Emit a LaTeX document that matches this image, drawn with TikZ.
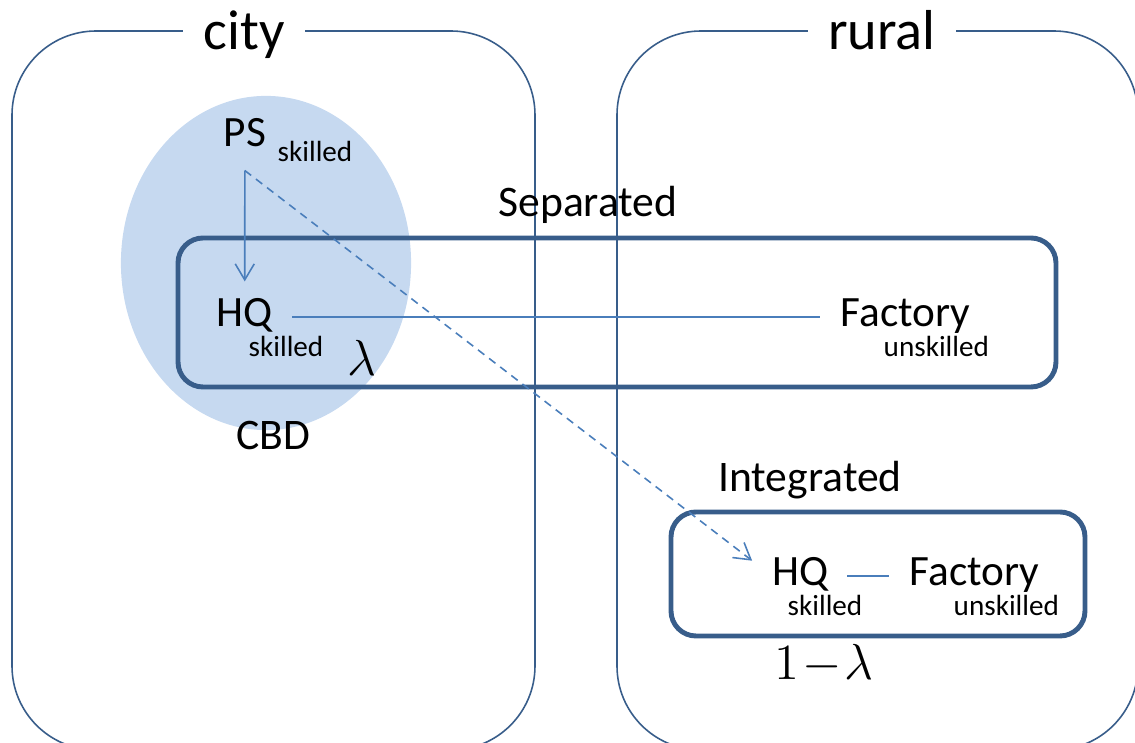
\documentclass[tikz,border=0pt]{standalone}
\usepackage[no-math]{fontspec}
\setmainfont{Carlito}
\usetikzlibrary{arrows.meta}
\definecolor{boxColor}{RGB}{56,93,138}
\definecolor{linkColor}{RGB}{74,126,187}
\definecolor{cbdColor}{RGB}{198,217,240}
\tikzstyle{plane} = [x = 0.01cm, y = -0.01cm]
\tikzstyle{regionStyle} = [color=boxColor, line width=0.45pt, rounded corners=0.84cm]
\tikzstyle{groupStyle} = [color=boxColor, line width=1.4pt, rounded corners=0.25cm]
\tikzstyle{regionTitle} = [font=\fontsize{16}{19}\selectfont, fill=white, inner xsep=0.2cm, inner ysep=0pt, anchor=base]
\tikzstyle{groupTitle} = [font=\fontsize{12.4}{15}\selectfont, inner sep=0pt, anchor=base]
\tikzstyle{siteText} = [font=\fontsize{12.3}{15}\selectfont, inner sep=0pt, anchor=base west, text height=0.65em, text depth=0.08em]
\tikzstyle{subText} = [font=\fontsize{8.3}{10}\selectfont, inner sep=0pt, anchor=base west]
\tikzstyle{shareText} = [font=\fontsize{13.4}{16}\selectfont, inner sep=0pt, anchor=base west]
\tikzstyle{linkLine} = [color=linkColor, line width=0.45pt]
\tikzstyle{linkArrow} = [linkLine, -{Straight Barb[length=0.16cm, width=0.19cm]}]
\newcommand{\siteLabel}[6]{
  \node [siteText] (#1) at (#2, #3) {#4};
  \node [subText] (#1Sub) at (#5, #3 + 30) {#6};
}

\begin{document}
\begin{tikzpicture}[plane]
  \useasboundingbox (0,0) rectangle (1135,743);
  \clip (0,0) rectangle (1135,743);

  % CBD area
  \fill [cbdColor] (266,263) ellipse [x radius=1.45cm, y radius=1.67cm];

  % city and rural
  \draw [regionStyle] (12,31) rectangle (535,750);
  \draw [regionStyle] (617,31) rectangle (1138,750);
  \node [regionTitle] (cityTitle) at (244,50) {city};
  \node [regionTitle] (ruralTitle) at (882,50) {rural};

  % firm types
  \draw [groupStyle] (178,238) rectangle (1056,387);
  \draw [groupStyle] (671,512) rectangle (1085,636);
  \node [groupTitle] (sepTitle) at (588,217) {Separated};
  \node [groupTitle] (intTitle) at (810,492) {Integrated};
  \node [groupTitle] (cbdTitle) at (273,450) {CBD};

  \node [siteText] (ps) at (223,147) {PS};
  \node [subText] (psSub) at (277,162) {skilled};
  \siteLabel{hqSep}{216}{327}{HQ}{248}{skilled}
  \siteLabel{factorySep}{840}{327}{Factory}{883}{unskilled}
  \siteLabel{hqInt}{772}{586}{HQ}{787}{skilled}
  \siteLabel{factoryInt}{909}{586}{Factory}{953}{unskilled}
  \node [shareText] (shareSep) at (347,376) {$\lambda$};
  \node [shareText] (shareInt) at (774,680) {$1\mkern1mu{-}\mkern1mu\lambda$};

  % links
  \coordinate (psFoot) at ([yshift=-0.2cm]ps.south);
  \draw [linkArrow, shorten >=0.22cm] (psFoot) -- (hqSep.north);
  \draw [linkArrow, dash pattern=on 0.8mm off 0.6mm, shorten >=0.25cm] (psFoot) -- (hqInt.west);
  \draw [linkLine, shorten <=0.19cm, shorten >=0.2cm] (hqSep.east) -- (factorySep.west);
  \draw [linkLine, shorten <=0.18cm, shorten >=0.2cm] (hqInt.east) -- (factoryInt.west);
\end{tikzpicture}
\end{document}
